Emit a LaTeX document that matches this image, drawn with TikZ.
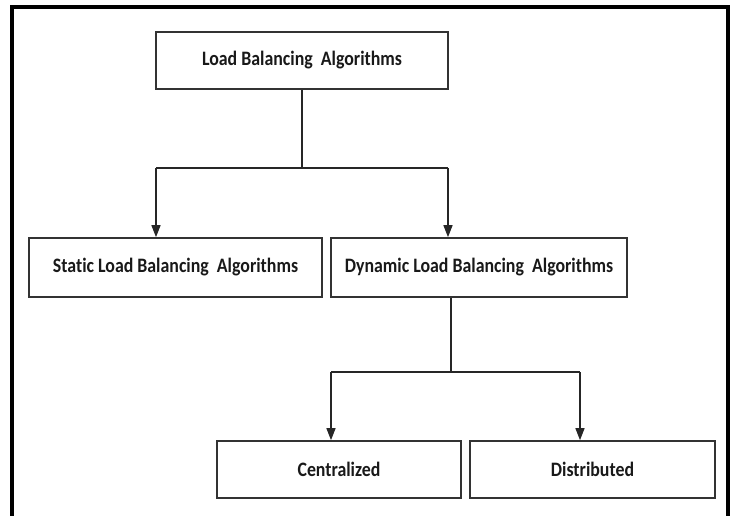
\documentclass[tikz,border=0pt]{standalone}
\usepackage{fontspec}
\setmainfont{Carlito}[FakeStretch=0.87,Ligatures={NoCommon}]
\usetikzlibrary{arrows.meta,calc}
\begin{document}
\begin{tikzpicture}[x=1pt,y=-1pt,
  box/.style={draw=black!80,line width=1.6pt,minimum height=57pt,inner sep=0pt,font=\fontsize{20.5}{22}\selectfont\bfseries,text=black!90},
  conn/.style={draw=black!85,line width=1.3pt},
  arr/.style={conn,-{Triangle[length=12pt,width=9pt]}}]
\useasboundingbox (0,0) rectangle (732,516);
\draw[line width=4pt] (12,516) -- (12,7) -- (728,7) -- (728,516);
\node[box,minimum width=292pt] (top) at (302,60.5) {Load Balancing\ \ Algorithms};
\node[box,minimum width=293pt,minimum height=59pt] (static) at (175.5,267.5) {Static Load Balancing\ \ Algorithms};
\node[box,minimum width=296pt,minimum height=59pt] (dyn) at (479,267.5) {Dynamic Load Balancing\ \ Algorithms};
\node[box,minimum width=244pt] (cen) at (339,469.5) {Centralized};
\node[box,minimum width=245pt] (dis) at (592.5,469.5) {Distributed};
\coordinate (j1) at (302,168);
\coordinate (a1) at (156,168);
\coordinate (b1) at (448,168);
\draw[conn] (top.south) -- (j1);
\draw[conn] (a1) -- (b1);
\draw[arr] (a1) -- (a1 |- static.north);
\draw[arr] (b1) -- (b1 |- dyn.north);
\coordinate (j2) at (451,372);
\coordinate (a2) at (331,372);
\coordinate (b2) at (580,372);
\draw[conn] (j2 |- dyn.south) -- (j2);
\draw[conn] (a2) -- (b2);
\draw[arr] (a2) -- (a2 |- cen.north);
\draw[arr] (b2) -- (b2 |- dis.north);
\end{tikzpicture}
\end{document}
